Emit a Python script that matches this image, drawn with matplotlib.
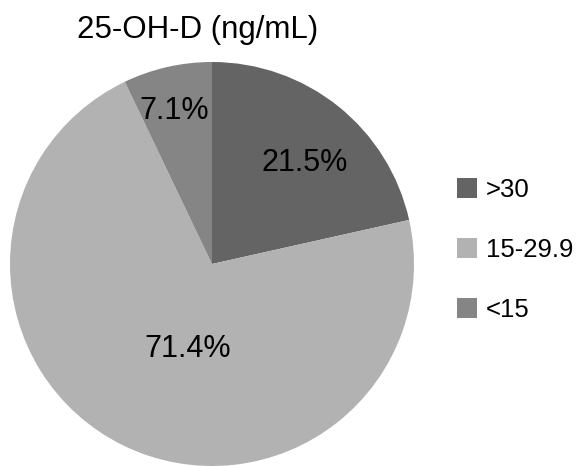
import numpy as np
import matplotlib.pyplot as plt

plt.rcParams['font.family'] = ['Liberation Sans', 'DejaVu Sans']

title = "25-OH-D (ng/mL)"
categories = [">30", "15-29.9", "<15"]
shares = [21.5, 71.4, 7.1]
colors = ["#646464", "#b2b2b2", "#858585"]

# label placement inside wedges (fraction of radius, angle shift in degrees)
label_r = [0.68, 0.44, 0.78]
label_shift = [-4, 10, 1]

fig = plt.figure(figsize=(5.78, 4.66), dpi=100)
ax = fig.add_axes([10 / 578, 0 / 466, 404 / 578, 404 / 466])

wedges, _ = ax.pie(shares, colors=colors, startangle=90, counterclock=False,
                   radius=1.0, wedgeprops=dict(linewidth=0))
ax.set_xlim(-1, 1)
ax.set_ylim(-1, 1)
ax.set_aspect('equal')
ax.axis('off')

for w, val, r, s in zip(wedges, shares, label_r, label_shift):
    mid = np.deg2rad((w.theta1 + w.theta2) / 2 + s)
    ax.text(r * np.cos(mid), r * np.sin(mid), f"{val}%", ha='center', va='center',
            fontsize=22, color='black')

fig.text(198 / 578, 1 - 30 / 466, title, ha='center', va='center', fontsize=22.5)

fig.legend(wedges, categories, loc='center left', bbox_to_anchor=(457 / 578, 1 - 250 / 466),
           frameon=False, fontsize=18.5, handlelength=0.78, handleheight=0.78,
           labelspacing=1.4, handletextpad=0.35, borderpad=0, borderaxespad=0)

fig.savefig("out.png", dpi=100)
